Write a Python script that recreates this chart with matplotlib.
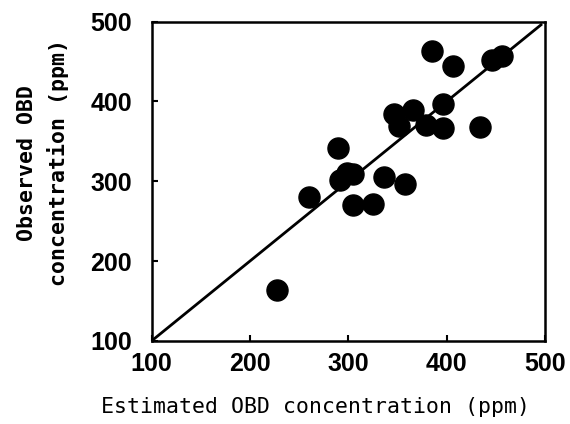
import numpy as np
import matplotlib
matplotlib.use('Agg')
import matplotlib.pyplot as plt

# Оценённые и наблюдаемые концентрации OBD (ppm)
estimated = [228, 260, 290, 292, 299, 305, 305, 325, 336, 358, 347, 352,
             366, 379, 385, 396, 396, 407, 434, 446, 456]
observed = [164, 280, 342, 301, 310, 309, 270, 272, 305, 297, 384, 369,
            389, 370, 463, 397, 367, 445, 368, 452, 457]
ticks = [100, 200, 300, 400, 500]

fig = plt.figure(figsize=(5.7, 4.24), dpi=100)
ax = fig.add_axes([0.266, 0.196, 0.690, 0.753])

ax.scatter(estimated, observed, s=230, color='black', zorder=3)
ax.plot([100, 496], [100, 496], color='black', linewidth=2.0)

ax.set_xlim(100, 500)
ax.set_ylim(100, 500)
ax.set_xticks(ticks)
ax.set_yticks(ticks)
ax.tick_params(direction='in', length=4, width=1.5)
ax.tick_params(axis='x', pad=8)
ax.tick_params(axis='y', pad=14)
for lab in ax.get_xticklabels() + ax.get_yticklabels():
    lab.set_fontfamily(['Liberation Sans Narrow', 'Liberation Sans'])
    lab.set_fontweight('bold')
    lab.set_fontsize(18)
for sp in ax.spines.values():
    sp.set_linewidth(1.8)

fig.text(0.554, 0.040, 'Estimated OBD concentration (ppm)', ha='center', va='center',
         fontsize=15.5, family='DejaVu Sans Mono')
fig.text(0.076, 0.616, 'Observed OBD\nconcentration (ppm)', ha='center', va='center',
         rotation=90, multialignment='center', linespacing=1.55,
         fontsize=15.5, family='DejaVu Sans Mono', fontweight='bold')

fig.savefig('out.png', dpi=100)
